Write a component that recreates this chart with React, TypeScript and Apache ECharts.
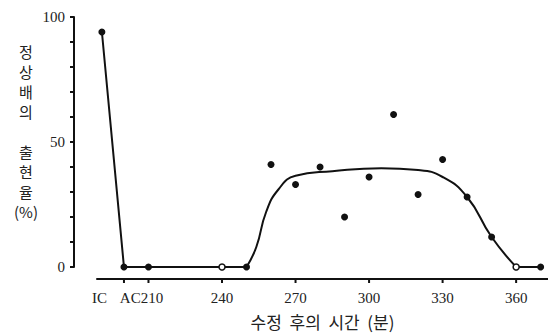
import React, { useEffect, useRef } from "react";
import * as echarts from "echarts";

// Time axis (minutes after fertilization); IC / AC are special positions
const xTickValues = [200, 210, 240, 270, 300, 330, 360];
const xLabelValues = [190, 210, 240, 270, 300, 330, 360];
const xLabelNames: Record<number, string> = { 190: "IC", 210: "{ac|AC210}" };
const yTickValues = [0, 10, 20, 30, 40, 50, 60, 70, 80, 90, 100];
const yLabelValues = [0, 50, 100];

// Fitted line, straight parts
const lineStart: number[][] = [
  [191, 94], [200, 0], [210, 0], [240, 0], [250, 0],
];
const lineEnd: number[][] = [[360, 0], [370, 0]];
// Fitted smooth curve (250 -> 360 min)
const lineCurve: number[][] = [
  [250, 0], [254, 8], [258, 22], [263, 31], [270, 36.5], [285, 38.3],
  [305, 39.5], [320, 38.8], [330, 36], [340, 28], [350, 12], [360, 0],
];
// Filled observation points lying on the line
const filledOnLine: number[][] = [
  [191, 94], [200, 0], [210, 0], [250, 0], [340, 28], [350, 12], [370, 0],
];
// Open observation points
const openPoints: number[][] = [[240, 0], [360, 0]];
// Scattered filled observations
const scatterPoints: number[][] = [
  [260, 41], [270, 33], [280, 40], [290, 20], [300, 36], [310, 61], [320, 29], [330, 43],
];

const yName = "정\n상\n배\n의\n\n출\n현\n율\n(%)";
const xName = "수정  후의  시간  (분)";

export default function App() {
  const ref = useRef<HTMLDivElement>(null);
  useEffect(() => {
    if (!ref.current) return;
    const chart = echarts.init(ref.current, undefined, { renderer: "svg" });
    const ink = "#111";
    const serif = "'Liberation Serif', 'DejaVu Serif', serif";
    const kr = "'Noto Sans CJK KR', 'Noto Sans', sans-serif";
    const lineSeries = (data: number[][], smooth: number | false) => ({
      type: "line",
      data,
      smooth,
      showSymbol: false,
      lineStyle: { color: ink, width: 2 },
      z: 2,
    });
    // Tick marks drawn as a custom series positioned through the axes
    const yTickSeries = {
      type: "custom",
      data: yTickValues.map((v) => [189, v]),
      silent: true,
      clip: false,
      z: 4,
      renderItem: (params: any, api: any) => {
        const p = api.coord([api.value(0), api.value(1)]);
        const x = p[0] - 23;
        return {
          type: "line",
          shape: { x1: x - 4, y1: p[1], x2: x, y2: p[1] },
          style: { stroke: ink, lineWidth: 2 },
        };
      },
    };
    const xTickSeries = {
      type: "custom",
      data: xTickValues.map((v) => [v, 0]),
      silent: true,
      clip: false,
      z: 4,
      renderItem: (params: any, api: any) => {
        const p = api.coord([api.value(0), api.value(1)]);
        const y = p[1] + 12;
        return {
          type: "line",
          shape: { x1: p[0], y1: y, x2: p[0], y2: y + 4 },
          style: { stroke: ink, lineWidth: 2 },
        };
      },
    };
    chart.setOption({
      animation: false,
      backgroundColor: "#fff",
      grid: { left: 97, right: 0, top: 17, bottom: 66, outerBoundsMode: "none" } as any,
      xAxis: {
        type: "value",
        min: 189,
        max: 373,
        offset: 12,
        splitLine: { show: false },
        axisLine: { show: true, onZero: false, lineStyle: { color: ink, width: 2 } },
        axisTick: { show: false },
        axisLabel: {
          customValues: xLabelValues,
          formatter: (v: number) => xLabelNames[v] ?? String(v),
          color: "#222",
          fontFamily: serif,
          fontSize: 15,
          margin: 11,
          rich: {
            ac: { fontFamily: serif, fontSize: 15, color: "#222", padding: [0, 14, 0, 0] },
          },
        },
        name: xName,
        nameLocation: "middle",
        nameGap: 34,
        nameTextStyle: { fontFamily: kr, fontSize: 17, color: "#222" },
      },
      yAxis: {
        type: "value",
        min: 0,
        max: 100,
        interval: 10,
        offset: 23,
        splitLine: { show: false },
        axisLine: { show: true, onZero: false, lineStyle: { color: ink, width: 2 } },
        axisTick: { show: false },
        axisLabel: {
          customValues: yLabelValues,
          color: "#222",
          fontFamily: serif,
          fontSize: 15,
          margin: 9,
        },
      },
      graphic: [
        {
          type: "text",
          x: 26,
          y: 131,
          style: {
            text: yName,
            fill: "#222",
            font: `15px ${kr}`,
            lineHeight: 20,
            textAlign: "center",
            textVerticalAlign: "middle",
          },
        },
      ],
      series: [
        lineSeries(lineStart, false),
        lineSeries(lineCurve, 0.5),
        lineSeries(lineEnd, false),
        {
          type: "scatter",
          data: filledOnLine,
          symbolSize: 7,
          itemStyle: { color: ink, opacity: 1 },
          z: 3,
        },
        {
          type: "scatter",
          data: openPoints,
          symbolSize: 6,
          itemStyle: { color: "#fff", borderColor: ink, borderWidth: 1.5, opacity: 1 },
          z: 3,
        },
        {
          type: "scatter",
          data: scatterPoints,
          symbolSize: 7,
          itemStyle: { color: ink, opacity: 1 },
          z: 3,
        },
        yTickSeries,
        xTickSeries,
      ],
    });
    return () => chart.dispose();
  }, []);
  return (
    <div
      ref={ref}
      style={{ position: "fixed", left: 0, top: 0, width: 548, height: 333, background: "#fff" }}
    />
  );
}
